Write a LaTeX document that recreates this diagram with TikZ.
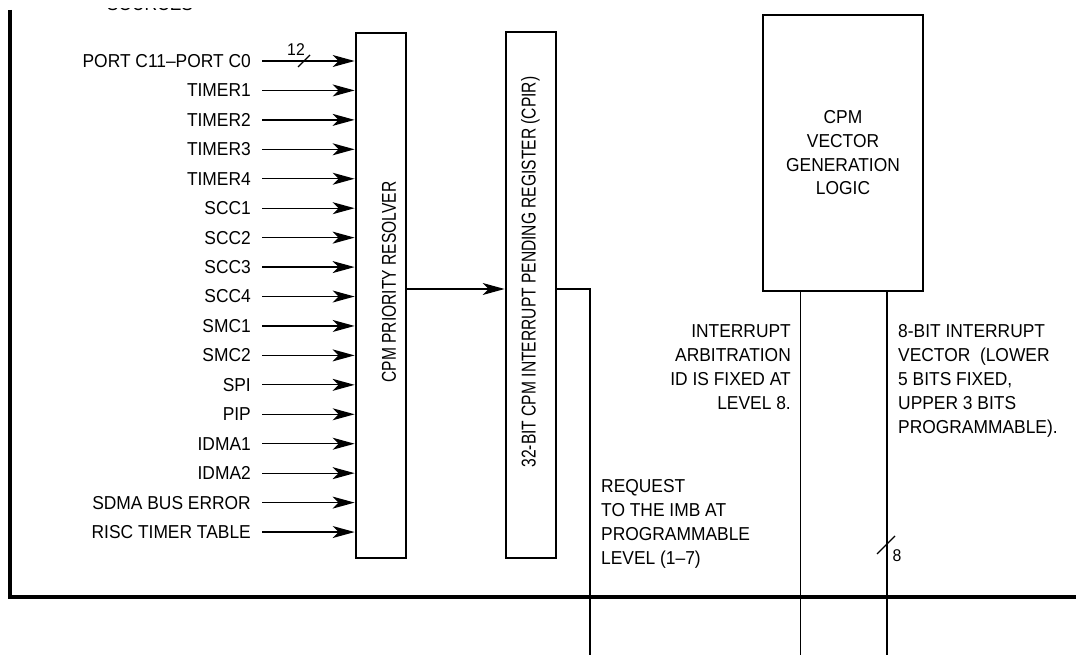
\documentclass[tikz,border=0pt]{standalone}
\usepackage{fontspec}
\setmainfont{Liberation Sans}[FakeStretch=0.93]
\newfontfamily\narrowfont{Liberation Sans}[FakeStretch=0.78]
\usetikzlibrary{arrows.meta}
\begin{document}
\begin{tikzpicture}[x=1pt,y=-1pt,
  lbl/.style={anchor=east, inner sep=0pt, font=\fontsize{18.7}{24}\selectfont},
  note/.style={inner sep=0pt, font=\fontsize{18.7}{24}\selectfont},
  small/.style={inner sep=0pt, font=\fontsize{17}{20}\selectfont},
  vtext/.style={inner sep=0pt, rotate=90, font=\narrowfont\fontsize{20}{24}\selectfont},
  inarrow/.style={line width=1.3pt, -{Stealth[length=22pt,width=12pt,inset=6pt]}},
  blk/.style={draw, line width=2.8pt, inner sep=0pt},
  wire/.style={line width=1.3pt},
  frame/.style={line width=4pt, line join=miter},
  ]
\useasboundingbox (0,0) rectangle (1076,655);

% clipped title remnant at the very top
\begin{scope}
  \clip (90,9) rectangle (210,14);
  \node[note, anchor=base] (src) at (150,11) {SOURCES};
\end{scope}

% frame
\coordinate (ftop) at (9.5,10);
\coordinate (fcorner) at (9.5,597);
\coordinate (fright) at (1076,597);
\draw[frame] (ftop) -- (fcorner) -- (fright);

% blocks
\node[blk, minimum width=50pt, minimum height=525pt] (res) at (381,295.5) {};
\node[vtext] (restext) at (389,282) {CPM PRIORITY RESOLVER};
\node[blk, minimum width=50pt, minimum height=526pt] (cpir) at (531,295) {};
\node[vtext] (cpirtext) at (530.5,272) {32-BIT CPM INTERRUPT PENDING REGISTER (CPIR)};
\node[blk, minimum width=160pt, minimum height=276pt, align=center,
      font=\fontsize{18.7}{23.7}\selectfont] (vec) at (843,153)
      {CPM\\VECTOR\\GENERATION\\LOGIC};

% inputs
\foreach \t [count=\i from 0] in {PORT C11--PORT C0,TIMER1,TIMER2,TIMER3,TIMER4,SCC1,SCC2,SCC3,SCC4,SMC1,SMC2,SPI,PIP,IDMA1,IDMA2,SDMA BUS ERROR,RISC TIMER TABLE}{
  \pgfmathsetmacro{\yy}{61+\i*29.44}
  \node[lbl] (in\i) at (251,\yy) {\t};
  \coordinate (st\i) at (262,\yy);
  \draw[inarrow] (st\i) -- (st\i -| res.west);
}
% bus width mark on PORT C input
\coordinate (s12a) at (298,67);
\coordinate (s12b) at (310,55);
\draw[wire] (s12a) -- (s12b);
\node[small] (n12) at (296,50) {12};

% resolver to CPIR
\coordinate (rc) at (406,289);
\draw[inarrow] (rc -| res.east) -- (rc -| cpir.west);

% CPIR output request line
\coordinate (req1) at (590,289);
\coordinate (req2) at (590,655);
\draw[wire] (req1 -| cpir.east) -- (req1) -- (req2);

% vector logic outputs
\coordinate (arb) at (800.5,655);
\coordinate (vv) at (887,655);
\draw[wire] (arb |- vec.south) -- (arb);
\draw[wire] (vv |- vec.south) -- (vv);
\coordinate (s8a) at (877,554);
\coordinate (s8b) at (895,536);
\draw[wire] (s8a) -- (s8b);
\node[small] (n8) at (897,556) {8};

% notes
\node[note, anchor=north east, align=right] (arbtext) at (791,324.5)
  {INTERRUPT\\ARBITRATION\\ID IS FIXED AT\\LEVEL 8.};
\node[note, anchor=north west, align=left] (vectext) at (898,324.5)
  {8-BIT INTERRUPT\\VECTOR\ \ (LOWER\\5 BITS FIXED,\\UPPER 3 BITS\\PROGRAMMABLE).};
\node[note, anchor=north west, align=left] (reqtext) at (601,479.5)
  {REQUEST\\TO THE IMB AT\\PROGRAMMABLE\\LEVEL (1--7)};
\end{tikzpicture}
\end{document}
